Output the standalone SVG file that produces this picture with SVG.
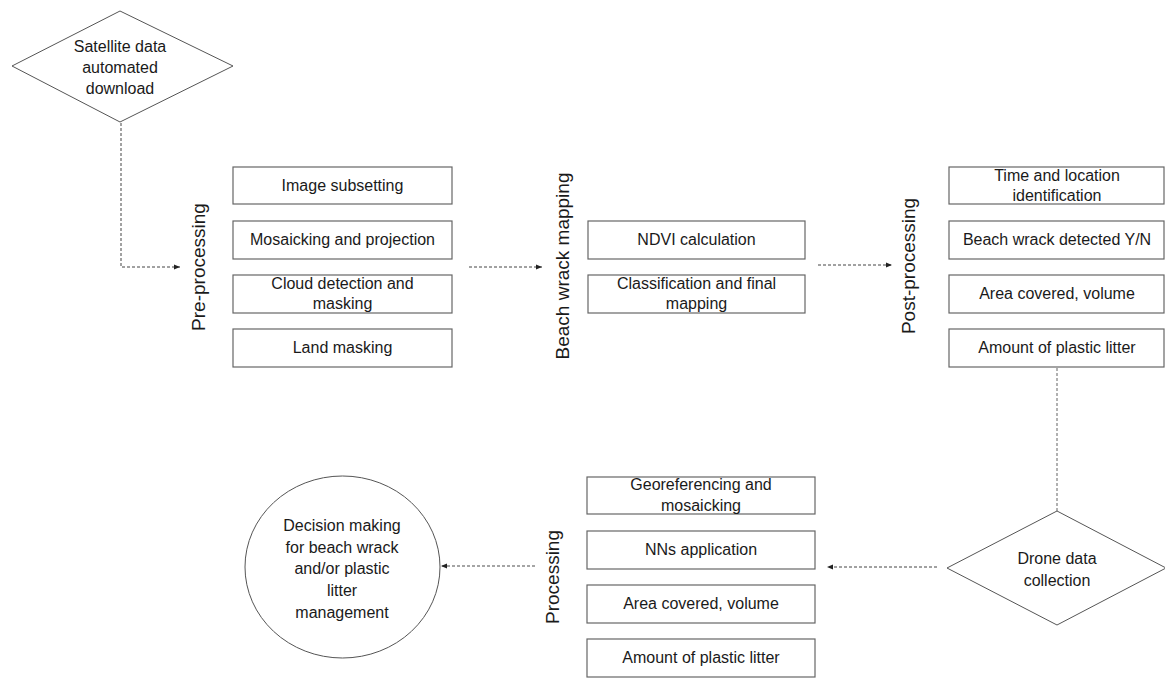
<svg xmlns="http://www.w3.org/2000/svg" width="1165" height="678" viewBox="0 0 1165 678">
<style>
  .box { fill: #fff; stroke: #666; stroke-width: 1.2; }
  .shape { fill: #fff; stroke: #555; stroke-width: 1; }
  .t { font-family: "Liberation Sans", Arial, sans-serif; font-size: 16px; fill: #1a1a1a; text-anchor: middle; }
  .lbl { font-family: "Liberation Sans", Arial, sans-serif; font-size: 19px; fill: #1a1a1a; text-anchor: middle; }
  .conn { fill: none; stroke: #444; stroke-width: 1; stroke-dasharray: 3 2; }
  .conn2 { fill: none; stroke: #888; stroke-width: 1.3; stroke-dasharray: 3 2; }
</style>
<defs>
  <marker id="arr" viewBox="0 0 10 10" refX="10" refY="5" markerWidth="6" markerHeight="6" orient="auto" markerUnits="userSpaceOnUse">
    <path d="M0,1 L10,5 L0,9 Z" fill="#222"/>
  </marker>
</defs>
<rect width="1165" height="678" fill="#fff"/>

<g id="connectors">
  <path class="conn" d="M121,123 V267 H180" marker-end="url(#arr)"/>
  <path class="conn" d="M469,267 H542" marker-end="url(#arr)"/>
  <path class="conn" d="M818,265 H892" marker-end="url(#arr)"/>
  <path class="conn2" d="M1057,368 V511"/>
  <path class="conn" d="M937,567 H827" marker-end="url(#arr)"/>
  <path class="conn2" d="M535,566 H441" marker-end="url(#arr)"/>
</g>

<g id="satellite">
  <polygon class="shape" points="120,11 233,66 120,122 12,66"/>
  <text class="t" x="120" y="52">Satellite data</text>
  <text class="t" x="120" y="73">automated</text>
  <text class="t" x="120" y="94">download</text>
</g>

<g id="preprocessing-label">
  <text class="lbl" transform="translate(205,267) rotate(-90)">Pre-processing</text>
</g>
<g id="pre-1"><rect class="box" x="233" y="167" width="219" height="37"/><text class="t" x="342.5" y="191">Image subsetting</text></g>
<g id="pre-2"><rect class="box" x="233" y="221" width="219" height="38"/><text class="t" x="342.5" y="245">Mosaicking and projection</text></g>
<g id="pre-3"><rect class="box" x="233" y="275" width="219" height="38"/><text class="t" x="342.5" y="289">Cloud detection and</text><text class="t" x="342.5" y="309">masking</text></g>
<g id="pre-4"><rect class="box" x="233" y="329" width="219" height="38"/><text class="t" x="342.5" y="353">Land masking</text></g>

<g id="beach-label">
  <text class="lbl" transform="translate(569,266) rotate(-90)">Beach wrack mapping</text>
</g>
<g id="beach-1"><rect class="box" x="588" y="221" width="217" height="38"/><text class="t" x="696.5" y="245">NDVI calculation</text></g>
<g id="beach-2"><rect class="box" x="588" y="275" width="217" height="38"/><text class="t" x="696.5" y="289">Classification and final</text><text class="t" x="696.5" y="309">mapping</text></g>

<g id="post-label">
  <text class="lbl" transform="translate(915,266) rotate(-90)">Post-processing</text>
</g>
<g id="post-1"><rect class="box" x="949" y="167" width="215" height="37"/><text class="t" x="1057" y="181">Time and location</text><text class="t" x="1057" y="201">identification</text></g>
<g id="post-2"><rect class="box" x="949" y="221" width="215" height="38"/><text class="t" x="1057" y="245">Beach wrack detected Y/N</text></g>
<g id="post-3"><rect class="box" x="949" y="275" width="215" height="38"/><text class="t" x="1057" y="299">Area covered, volume</text></g>
<g id="post-4"><rect class="box" x="949" y="329" width="215" height="38"/><text class="t" x="1057" y="353">Amount of plastic litter</text></g>

<g id="drone">
  <polygon class="shape" points="1057,511 1166,568 1057,625 947,568"/>
  <text class="t" x="1057" y="564">Drone data</text>
  <text class="t" x="1057" y="586">collection</text>
</g>

<g id="processing-label">
  <text class="lbl" transform="translate(559,577) rotate(-90)">Processing</text>
</g>
<g id="proc-1"><rect class="box" x="587" y="477" width="228" height="37"/><text class="t" x="701" y="490">Georeferencing and</text><text class="t" x="701" y="511">mosaicking</text></g>
<g id="proc-2"><rect class="box" x="587" y="531" width="228" height="38"/><text class="t" x="701" y="555">NNs application</text></g>
<g id="proc-3"><rect class="box" x="587" y="585" width="228" height="38"/><text class="t" x="701" y="609">Area covered, volume</text></g>
<g id="proc-4"><rect class="box" x="587" y="639" width="228" height="38"/><text class="t" x="701" y="663">Amount of plastic litter</text></g>

<g id="decision">
  <ellipse class="shape" cx="342.5" cy="567" rx="97.5" ry="91"/>
  <text class="t" x="342" y="531">Decision making</text>
  <text class="t" x="342" y="553">for beach wrack</text>
  <text class="t" x="342" y="574">and/or plastic</text>
  <text class="t" x="342" y="596">litter</text>
  <text class="t" x="342" y="618">management</text>
</g>
</svg>
